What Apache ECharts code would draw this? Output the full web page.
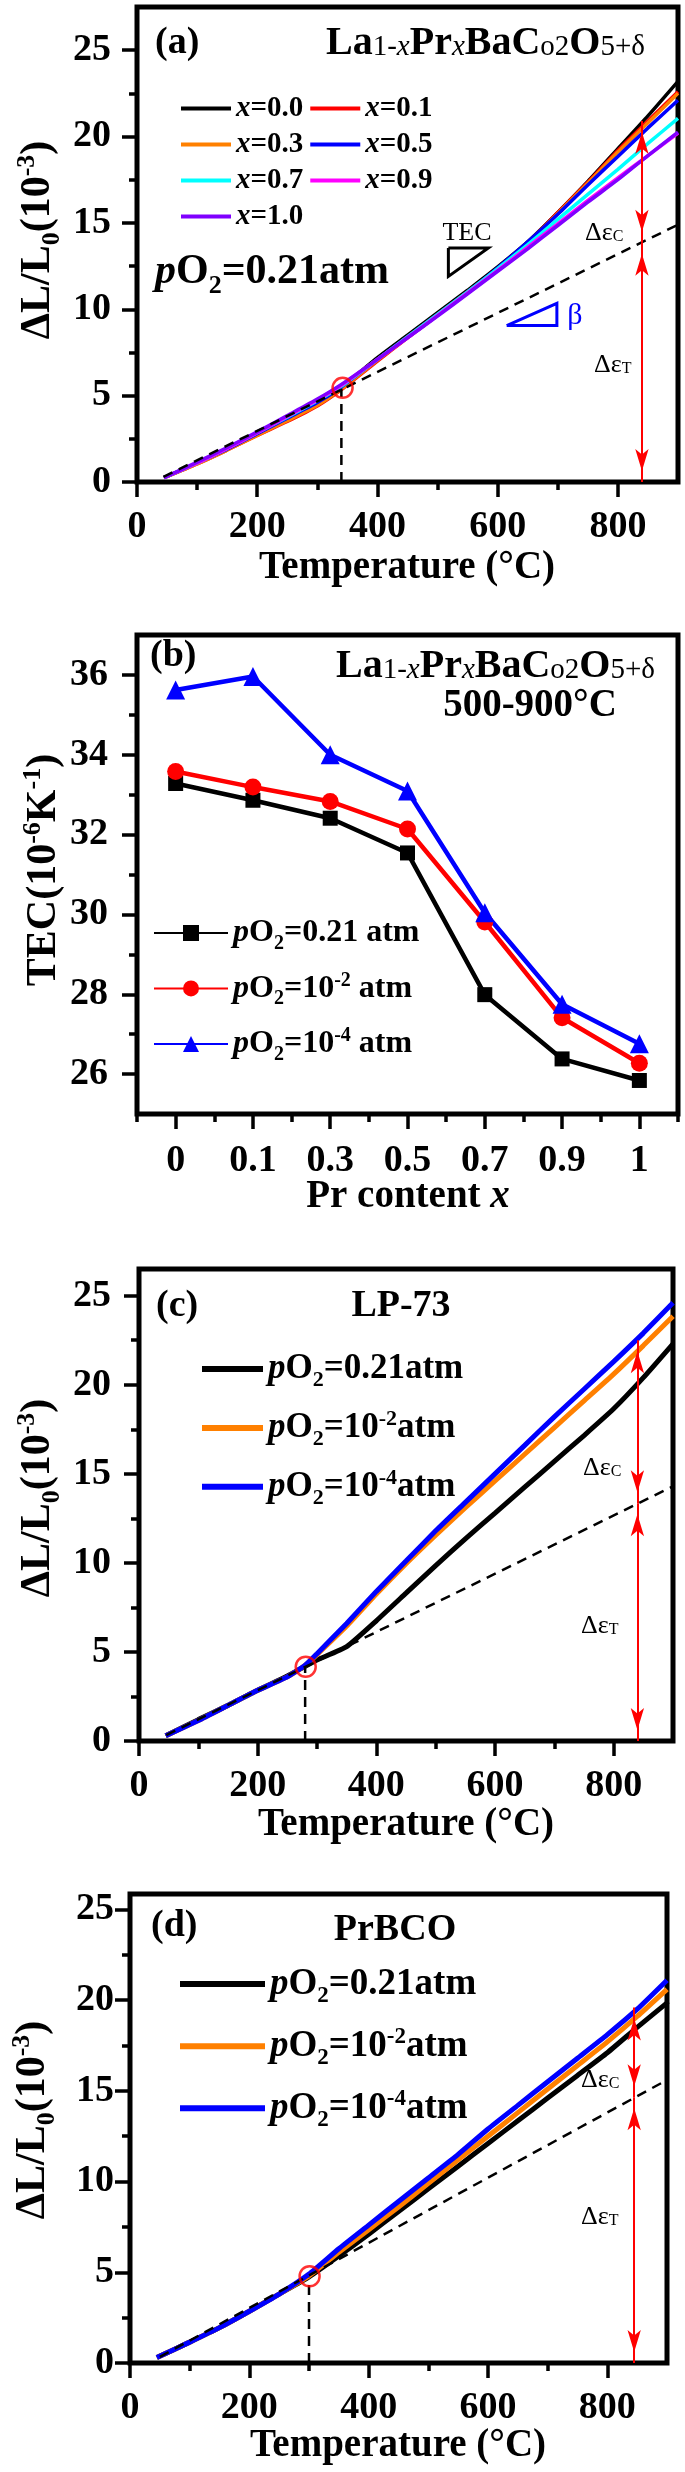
<!DOCTYPE html>
<html><head><meta charset="utf-8">
<script src="https://cdn.jsdelivr.net/npm/echarts@6/dist/echarts.min.js"></script>
<style>html,body{margin:0;padding:0;background:#fff}#c{width:685px;height:2472px}</style>
</head><body><div id="c"></div>
<script>
const FONT = "'Liberation Serif','Times New Roman',serif";

// ---------- Panel (a): La1-xPrxBaCo2O5+d, pO2 = 0.21 atm ----------
const tempA = [45,100,150,200,250,300,340,400,450,500,550,600,650,700,750,800,850,900];
const namesA = ['x=0.0','x=0.1','x=0.3','x=0.5','x=0.7','x=0.9','x=1.0'];
const colorsA = ['#000000','#ff0000','#ff8000','#0000ff','#00ffff','#ff00ff','#8000ff'];
const a00 = [0.25,1.1,1.95,2.85,3.75,4.65,5.5,7.2,8.5,9.8,11.1,12.45,13.9,15.6,17.4,19.3,21.2,23.2];
const a01 = [0.25,1.05,1.85,2.7,3.5,4.4,5.35,7.0,8.35,9.65,11.0,12.35,13.85,15.6,17.35,19.2,20.9,22.6];
const a03 = [0.25,1.05,1.85,2.7,3.55,4.45,5.4,7.05,8.4,9.7,11.0,12.35,13.85,15.55,17.3,19.1,20.8,22.5];
const a05 = [0.25,1.1,1.9,2.8,3.7,4.6,5.5,7.1,8.4,9.7,11.0,12.4,13.9,15.5,17.2,18.85,20.5,22.1];
const a07 = [0.25,1.1,1.95,2.85,3.75,4.7,5.55,7.1,8.4,9.7,11.0,12.35,13.75,15.2,16.65,18.1,19.6,21.05];
const a09 = [0.25,1.1,1.95,2.85,3.8,4.75,5.6,7.1,8.35,9.65,10.95,12.25,13.6,14.95,16.3,17.6,18.9,20.2];
const a10 = [0.25,1.15,2.0,2.9,3.85,4.8,5.65,7.1,8.35,9.6,10.9,12.2,13.5,14.85,16.2,17.5,18.9,20.25];
const dashA = [[44,0.3],[900,14.9]];
const vDashA = [[340,0],[340,5.4]];
const onsetA = [[342,5.45]];
const arrowA = {x:840, bottom:0, mid:13.85, top:20.9};
const triTEC = [[518,13.55],[584.5,13.55],[518,11.9],[518,13.55]];
const triBeta = [[615,9.06],[698.5,10.34],[698.5,9.06],[615,9.06]];

// ---------- Panel (b): TEC 500-900 C vs Pr content ----------
const prContent = ['0','0.1','0.3','0.5','0.7','0.9','1'];
const tec021 = [33.28,32.86,32.41,31.54,27.99,26.38,25.84];
const tec1e2 = [33.58,33.19,32.83,32.14,29.81,27.41,26.27];
const tec1e4 = [35.62,35.96,34.0,33.09,30.04,27.75,26.76];

// ---------- Panel (c): LP-73 ----------
const tempC = [45,100,150,200,250,280,300,350,400,450,500,550,600,650,700,750,800,850,900];
const c021 = [0.3,1.2,2.0,2.85,3.65,4.2,4.55,5.3,6.75,8.3,9.85,11.35,12.8,14.25,15.7,17.15,18.65,20.4,22.3];
const c1e2 = [0.3,1.15,2.0,2.85,3.6,4.25,4.85,6.45,8.25,9.95,11.55,13.1,14.6,16.1,17.6,19.1,20.6,22.2,23.85];
const c1e4 = [0.3,1.15,2.0,2.85,3.6,4.25,4.9,6.6,8.4,10.1,11.8,13.4,15.0,16.6,18.2,19.75,21.3,22.9,24.6];
const dashC = [[46,0.33],[900,14.3]];
const vDashC = [[280,0],[280,4.1]];
const onsetC = [[281,4.17]];
const arrowC = {x:840, bottom:0, mid:13.35, top:22.5};

// ---------- Panel (d): PrBCO ----------
const tempD = [45,100,150,200,250,300,350,400,450,500,550,600,650,700,750,800,850,900];
const d021 = [0.3,1.15,1.95,2.85,3.8,4.75,5.9,7.1,8.35,9.6,10.85,12.1,13.35,14.6,15.85,17.1,18.5,19.85];
const d1e2 = [0.3,1.15,1.95,2.85,3.8,4.8,6.1,7.35,8.6,9.9,11.2,12.5,13.8,15.1,16.4,17.7,19.1,20.6];
const d1e4 = [0.3,1.15,1.95,2.85,3.8,4.9,6.3,7.6,8.9,10.2,11.5,12.9,14.2,15.5,16.8,18.1,19.5,21.1];
const dashD = [[50,0.34],[900,15.6]];
const vDashD = [[300,0],[300,4.7]];
const onsetD = [[301,4.78]];
const arrowD = {x:845, bottom:0, mid:14.65, top:19.6};

// ---------- tick labels ----------
const tempTicks = [0,200,400,600,800];
const tempMinor = [100,300,500,700];
const strainTicks = [0,5,10,15,20,25];
const strainMinor = [2.5,7.5,12.5,17.5,22.5];
const tecTicks = [26,28,30,32,34,36];
const tecMinor = [27,29,31,33,35];

// ---------- helpers ----------
function richFor(F, H, sRatio) {
  const fs = Math.round(F * 0.62);
  const ss = Math.round(F * (sRatio || 0.72));
  const Lsub = H + 0.675 * (fs - F) - 0.4 * F;
  const Lsup = H + 0.675 * (F - fs) - 0.76 * F;
  const Ls = H + 0.675 * (ss - F);
  const c = {fontFamily: FONT, color: '#000', fill: '#000'};
  return {
    n: Object.assign({}, c, {fontSize: F, fontWeight: 'bold', lineHeight: H}),
    i: Object.assign({}, c, {fontSize: F, fontWeight: 'bold', fontStyle: 'italic', lineHeight: H}),
    r: Object.assign({}, c, {fontSize: F, fontWeight: 'normal', lineHeight: H}),
    sub: Object.assign({}, c, {fontSize: fs, fontWeight: 'bold', height: Lsub, lineHeight: Lsub, verticalAlign: 'bottom'}),
    sup: Object.assign({}, c, {fontSize: fs, fontWeight: 'bold', height: Lsup, lineHeight: Lsup, verticalAlign: 'top'}),
    s: Object.assign({}, c, {fontSize: ss, fontWeight: 'normal', height: Ls, lineHeight: Ls, verticalAlign: 'bottom'}),
    si: Object.assign({}, c, {fontSize: ss, fontWeight: 'normal', fontStyle: 'italic', height: Ls, lineHeight: Ls, verticalAlign: 'bottom'})
  };
}
function gtext(x, y, text, rich, align, vAlign, rotation, fill) {
  return {type: 'text', x: x, y: y, rotation: rotation || 0, silent: true, z: 100,
    style: {text: text, rich: rich, fill: fill || '#000', align: align, verticalAlign: vAlign,
      textAlign: align, textVerticalAlign: vAlign, fontFamily: FONT, fontSize: 38, fontWeight: 'bold'}};
}
const labelStyle = {fontFamily: FONT, fontWeight: 'bold', fontSize: 38, color: '#000'};
const tickLine = {width: 3.5, color: '#000'};
function valuePair(grid, dim, min, max, majors, minors, margin) {
  const base = {gridIndex: grid, type: 'value', min: min, max: max,
    position: dim === 'x' ? 'bottom' : 'left', axisLine: {show: false}, splitLine: {show: false}};
  return [
    Object.assign({}, base, {
      axisTick: {show: true, inside: false, length: 15, lineStyle: tickLine, customValues: majors},
      axisLabel: Object.assign({show: true, customValues: majors, margin: margin}, labelStyle)
    }),
    Object.assign({}, base, {
      axisTick: {show: true, inside: false, length: 8, lineStyle: tickLine, customValues: minors},
      axisLabel: {show: false}
    })
  ];
}
function pts(xs, ys) { return xs.map((x, i) => [x, ys[i]]); }
function arrowMark(a) {
  return {silent: true, animation: false, symbol: ['arrow', 'arrow'], symbolSize: [10, 22],
    symbolOffset: [[0, '50%'], [0, '50%']],
    label: {show: false}, emphasis: {disabled: true},
    lineStyle: {color: '#ff0000', width: 2, type: 'solid', opacity: 1},
    itemStyle: {color: '#ff0000'},
    data: [[{coord: [a.x, a.bottom]}, {coord: [a.x, a.mid]}], [{coord: [a.x, a.mid]}, {coord: [a.x, a.top]}]]};
}
function refSeries(g, dash, vdash, onset, arrow) {
  return [
    {type: 'line', xAxisIndex: 2 * g, yAxisIndex: 2 * g, data: dash, symbol: 'none', silent: true, z: 4,
      lineStyle: {type: [10, 7], width: 2.5, color: '#000'}, markLine: arrowMark(arrow)},
    {type: 'line', xAxisIndex: 2 * g, yAxisIndex: 2 * g, data: vdash, symbol: 'none', silent: true, z: 4,
      lineStyle: {type: [10, 7], width: 2.5, color: '#000'}},
    {type: 'scatter', xAxisIndex: 2 * g, yAxisIndex: 2 * g, data: onset, symbol: 'circle', symbolSize: 20, silent: true, z: 6,
      itemStyle: {color: 'rgba(0,0,0,0)', borderColor: '#ff0000', borderWidth: 2.5}}
  ];
}

const gridBase = {show: true, borderColor: '#000', borderWidth: 5, backgroundColor: 'rgba(0,0,0,0)', containLabel: false, outerBoundsMode: 'none'};
const grids = [
  Object.assign({left: 137, top: 7, width: 541, height: 475}, gridBase),
  Object.assign({left: 137, top: 635, width: 541, height: 479}, gridBase),
  Object.assign({left: 139, top: 1269, width: 534, height: 472}, gridBase),
  Object.assign({left: 130, top: 1894, width: 537, height: 469}, gridBase)
];

const xAxes = [].concat(
  valuePair(0, 'x', 0, 900, tempTicks, tempMinor, 26),
  [
    {gridIndex: 1, type: 'category', data: prContent, boundaryGap: true, position: 'bottom', axisLine: {show: false},
      axisTick: {show: true, alignWithLabel: true, interval: 0, length: 15, lineStyle: tickLine},
      axisLabel: Object.assign({interval: 0, margin: 28}, labelStyle), splitLine: {show: false}},
    {gridIndex: 1, type: 'category', data: prContent, boundaryGap: true, position: 'bottom', axisLine: {show: false},
      axisTick: {show: true, alignWithLabel: false, interval: 0, length: 8, lineStyle: tickLine},
      axisLabel: {show: false}, splitLine: {show: false}}
  ],
  valuePair(2, 'x', 0, 900, tempTicks, tempMinor, 26),
  valuePair(3, 'x', 0, 900, tempTicks, tempMinor, 26)
);
const yAxes = [].concat(
  valuePair(0, 'y', 0, 27.5, strainTicks, strainMinor, 26),
  valuePair(1, 'y', 25, 37, tecTicks, tecMinor, 29),
  valuePair(2, 'y', 0, 26.5, strainTicks, strainMinor, 28),
  valuePair(3, 'y', 0, 25.85, strainTicks, strainMinor, 16)
);

const series = [];
const arrsA = [a00, a01, a03, a05, a07, a09, a10];
arrsA.forEach((arr, i) => {
  series.push({type: 'line', name: namesA[i], xAxisIndex: 0, yAxisIndex: 0, data: pts(tempA, arr),
    symbol: 'none', smooth: 0.2, z: 3, lineStyle: {width: 3.5, color: colorsA[i]}, itemStyle: {color: colorsA[i]}});
});
series.push.apply(series, refSeries(0, dashA, vDashA, onsetA, arrowA));
series.push({type: 'line', xAxisIndex: 0, yAxisIndex: 0, data: triTEC, symbol: 'none', silent: true, z: 5,
  lineStyle: {width: 3, color: '#000', join: 'miter'}});
series.push({type: 'line', xAxisIndex: 0, yAxisIndex: 0, data: triBeta, symbol: 'none', silent: true, z: 5,
  lineStyle: {width: 3, color: '#0000ff', join: 'miter'}});

const namesB = ['b021', 'b1e2', 'b1e4'];
[[tec021, '#000000', 'rect', 15], [tec1e2, '#ff0000', 'circle', 17], [tec1e4, '#0000ff', 'triangle', 19]].forEach((s, i) => {
  series.push({type: 'line', name: namesB[i], xAxisIndex: 2, yAxisIndex: 2, data: s[0], symbol: s[2], symbolSize: s[3],
    showSymbol: true, z: 3, lineStyle: {width: 4.5, color: s[1]}, itemStyle: {color: s[1]}});
});

const namesC = ['c021', 'c1e2', 'c1e4'];
const colorsCD = ['#000000', '#ff8000', '#0000ff'];
[c021, c1e2, c1e4].forEach((arr, i) => {
  series.push({type: 'line', name: namesC[i], xAxisIndex: 4, yAxisIndex: 4, data: pts(tempC, arr),
    symbol: 'none', smooth: 0.15, z: 3, lineStyle: {width: 5, color: colorsCD[i]}, itemStyle: {color: colorsCD[i]}});
});
series.push.apply(series, refSeries(2, dashC, vDashC, onsetC, arrowC));

const namesD = ['d021', 'd1e2', 'd1e4'];
[d021, d1e2, d1e4].forEach((arr, i) => {
  series.push({type: 'line', name: namesD[i], xAxisIndex: 6, yAxisIndex: 6, data: pts(tempD, arr),
    symbol: 'none', smooth: 0.15, z: 3, lineStyle: {width: 5, color: colorsCD[i]}, itemStyle: {color: colorsCD[i]}});
});
series.push.apply(series, refSeries(3, dashD, vDashD, onsetD, arrowD));

const pO2Text = {
  b021: '{i|p}{n|O}{sub|2}{n|=0.21 atm}', b1e2: '{i|p}{n|O}{sub|2}{n|=10}{sup|-2}{n| atm}', b1e4: '{i|p}{n|O}{sub|2}{n|=10}{sup|-4}{n| atm}',
  c021: '{i|p}{n|O}{sub|2}{n|=0.21atm}', c1e2: '{i|p}{n|O}{sub|2}{n|=10}{sup|-2}{n|atm}', c1e4: '{i|p}{n|O}{sub|2}{n|=10}{sup|-4}{n|atm}',
  d021: '{i|p}{n|O}{sub|2}{n|=0.21atm}', d1e2: '{i|p}{n|O}{sub|2}{n|=10}{sup|-2}{n|atm}', d1e4: '{i|p}{n|O}{sub|2}{n|=10}{sup|-4}{n|atm}'
};
function legendText(F, H) {
  return {fontFamily: FONT, fontSize: F, fontWeight: 'bold', color: '#000', lineHeight: H, rich: richFor(F, H)};
}
const legends = [
  {data: namesA, left: 181, top: 94, width: 262, orient: 'horizontal', itemWidth: 50, itemHeight: 4, itemGap: 7,
    icon: 'rect', selectedMode: false, padding: 0, textStyle: legendText(29, 28),
    formatter: n => '{i|x}{n|' + n.slice(1) + '}'},
  {data: namesB, left: 153, top: 914, orient: 'vertical', itemWidth: 74, itemHeight: 20, itemGap: 16,
    selectedMode: false, padding: 0, textStyle: legendText(32, 38), formatter: n => pO2Text[n]},
  {data: namesC, left: 202, top: 1348, orient: 'vertical', itemWidth: 61, itemHeight: 6, itemGap: 15.5,
    icon: 'rect', selectedMode: false, padding: 0, textStyle: legendText(35, 42), formatter: n => pO2Text[n]},
  {data: namesD, left: 180, top: 1962, orient: 'vertical', itemWidth: 85, itemHeight: 6, itemGap: 16.5,
    icon: 'rect', selectedMode: false, padding: 0, textStyle: legendText(37, 44), formatter: n => pO2Text[n]}
];

const R38 = richFor(38, 46);
const R40 = richFor(40, 46, 0.72);
const R42 = richFor(42, 50);
const R39 = richFor(39, 46);
const RY = richFor(42, 50);
const RD = richFor(26, 32, 0.62);
const formula = '{n|La}{s|1-}{si|x}{n|Pr}{si|x}{n|BaC}{s|o2}{n|O}{s|5+δ}';
const yTitleStrain = '{n|ΔL/L}{sub|0}{n|(10}{sup|-3}{n|)}';
const xTitleTemp = '{n|Temperature (°C)}';
const HALF = Math.PI / 2;

const graphics = [
  // (a)
  gtext(155, 43, '{n|(a)}', R38, 'left', 'middle'),
  gtext(645, 44, formula, R40, 'right', 'middle'),
  gtext(155, 272, '{i|p}{n|O}{sub|2}{n|=0.21atm}', R42, 'left', 'middle'),
  gtext(467, 233, '{r|TEC}', RD, 'center', 'middle'),
  {type: 'text', x: 575, y: 316, silent: true, z: 100, style: {text: 'β', fill: '#0000ff', fontFamily: FONT, fontSize: 30, align: 'center', verticalAlign: 'middle'}},
  gtext(585, 233, '{r|Δε}{s|C}', RD, 'left', 'middle'),
  gtext(594, 365, '{r|Δε}{s|T}', RD, 'left', 'middle'),
  gtext(38, 240, yTitleStrain, RY, 'center', 'middle', HALF),
  gtext(407, 568, xTitleTemp, R39, 'center', 'middle'),
  // (b)
  gtext(150, 656, '{n|(b)}', R38, 'left', 'middle'),
  gtext(655, 667, formula, R40, 'right', 'middle'),
  gtext(530, 706, '{n|500-900°C}', R39, 'center', 'middle'),
  gtext(44, 870, '{n|TEC(10}{sup|-6}{n|K}{sup|-1}{n|)}', RY, 'center', 'middle', HALF),
  gtext(408, 1197, '{n|Pr content }{i|x}', R39, 'center', 'middle'),
  // (c)
  gtext(156, 1306, '{n|(c)}', R38, 'left', 'middle'),
  gtext(401, 1306, '{n|LP-73}', R38, 'center', 'middle'),
  gtext(583, 1468, '{r|Δε}{s|C}', RD, 'left', 'middle'),
  gtext(581, 1626, '{r|Δε}{s|T}', RD, 'left', 'middle'),
  gtext(38, 1498, yTitleStrain, RY, 'center', 'middle', HALF),
  gtext(406, 1825, xTitleTemp, R39, 'center', 'middle'),
  // (d)
  gtext(151, 1926, '{n|(d)}', R38, 'left', 'middle'),
  gtext(395, 1930, '{n|PrBCO}', R38, 'center', 'middle'),
  gtext(581, 2080, '{r|Δε}{s|C}', RD, 'left', 'middle'),
  gtext(581, 2217, '{r|Δε}{s|T}', RD, 'left', 'middle'),
  gtext(33, 2120, yTitleStrain, RY, 'center', 'middle', HALF),
  gtext(398, 2446, xTitleTemp, R39, 'center', 'middle')
];

const chart = echarts.init(document.getElementById('c'), null, {renderer: 'canvas'});
chart.setOption({
  animation: false,
  backgroundColor: '#ffffff',
  textStyle: {fontFamily: FONT},
  grid: grids,
  xAxis: xAxes,
  yAxis: yAxes,
  legend: legends,
  series: series,
  graphic: graphics
});
</script></body></html>
